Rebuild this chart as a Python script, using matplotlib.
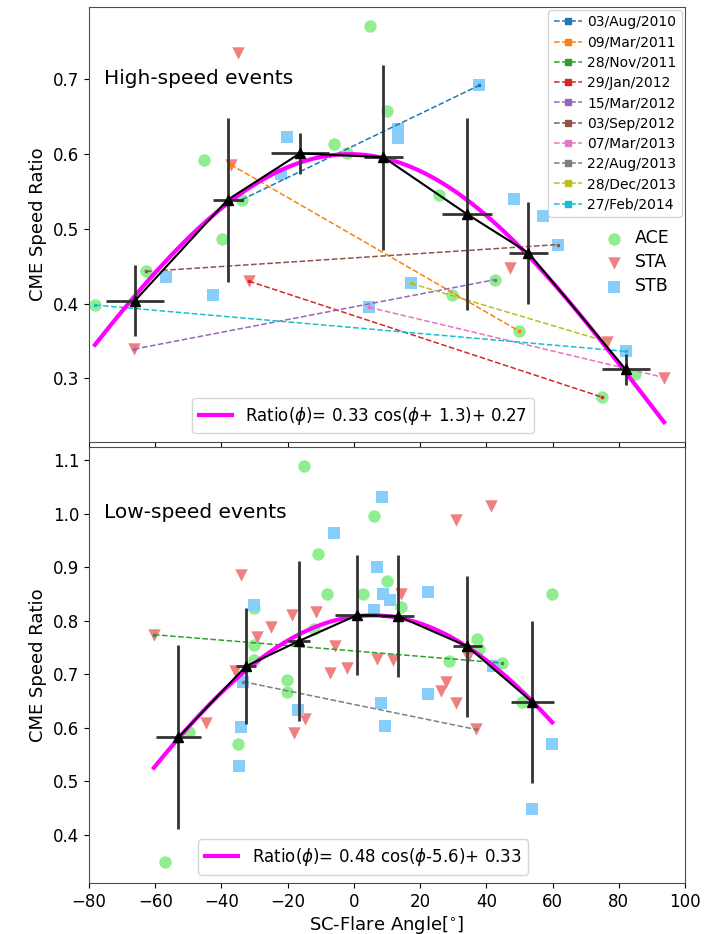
import numpy as np
import matplotlib
matplotlib.use("Agg")
import matplotlib.pyplot as plt

# ---- high-speed events (top panel) ----
hs_ace_x = [-78.2, -62.8, -45.3, -39.8, -33.9, -5.9, -2.2, 4.9, 10.1, 25.7, 29.7, 42.6, 50.0, 74.8, 84.9]
hs_ace_y = [0.398, 0.443, 0.592, 0.487, 0.539, 0.613, 0.601, 0.772, 0.658, 0.545, 0.412, 0.432, 0.363, 0.275, 0.306]
hs_sta_x = [-66.4, -34.9, -37.2, -31.7, 47.2, 76.4, 93.7]
hs_sta_y = [0.339, 0.736, 0.586, 0.430, 0.448, 0.349, 0.301]
hs_stb_x = [-56.7, -42.6, -22.1, -20.1, 13.2, 13.2, 4.6, 17.3, 37.8, 48.3, 57.0, 61.6, 82.1]
hs_stb_y = [0.436, 0.411, 0.573, 0.623, 0.634, 0.622, 0.395, 0.427, 0.692, 0.540, 0.517, 0.479, 0.336]

hs_bin_x = [-66.1, -38.1, -16.3, 8.9, 34.1, 52.7, 82.1]
hs_bin_y = [0.404, 0.539, 0.601, 0.596, 0.520, 0.468, 0.312]
hs_bin_xerr = [8.8, 4.5, 8.8, 5.9, 7.5, 5.8, 7.3]
hs_bin_yerr = [0.048, 0.110, 0.027, 0.124, 0.128, 0.068, 0.021]

# ---- low-speed events (bottom panel) ----
ls_ace_x = [-57.0, -15.0, 6.1, -10.8, -8.0, 2.8, 10.0, -30.2, -30.2, -30.2, -20.1, -20.1, -34.9, -49.7, -12.1,
            14.1, 37.1, 37.8, 28.8, 44.7, 50.7, 59.9]
ls_ace_y = [0.350, 1.089, 0.995, 0.925, 0.850, 0.850, 0.875, 0.823, 0.755, 0.726, 0.689, 0.666, 0.569, 0.593, 0.784,
            0.825, 0.766, 0.748, 0.725, 0.721, 0.649, 0.850]
ls_sta_x = [-60.4, -34.1, -29.4, -35.9, -44.8, -25.0, -18.6, -11.3, -5.7, -7.2, -2.0, -14.8, -18.1, 6.9, 11.9,
            41.5, 31.0, 14.1, 34.6, 27.8, 26.3, 31.0, 36.8]
ls_sta_y = [0.774, 0.886, 0.769, 0.706, 0.608, 0.788, 0.810, 0.817, 0.753, 0.702, 0.712, 0.617, 0.590, 0.729, 0.726,
            1.014, 0.988, 0.849, 0.733, 0.686, 0.668, 0.647, 0.597]
ls_stb_x = [8.4, -6.0, 6.9, 8.9, 10.9, 6.2, -30.1, -33.4, -34.1, -34.6, -16.8, 8.1, 9.3, 22.5, 22.5, 42.1, 59.9, 53.9]
ls_stb_y = [1.031, 0.964, 0.900, 0.850, 0.838, 0.820, 0.829, 0.686, 0.601, 0.528, 0.633, 0.646, 0.603, 0.853, 0.664,
            0.715, 0.569, 0.449]

ls_bin_x = [-53.0, -32.6, -16.6, 0.85, 13.2, 34.3, 53.9]
ls_bin_y = [0.582, 0.715, 0.762, 0.810, 0.809, 0.752, 0.648]
ls_bin_xerr = [6.9, 3.0, 3.3, 6.5, 5.0, 4.5, 6.4]
ls_bin_yerr = [0.172, 0.108, 0.149, 0.112, 0.114, 0.132, 0.151]

# ---- individual events seen by several spacecraft ----
event_names = ["03/Aug/2010", "09/Mar/2011", "28/Nov/2011", "29/Jan/2012", "15/Mar/2012",
               "03/Sep/2012", "07/Mar/2013", "22/Aug/2013", "28/Dec/2013", "27/Feb/2014"]
event_panel = [0, 0, 1, 0, 0, 0, 0, 1, 0, 0]
event_x = [[-33.9, 37.8], [-37.2, 50.0], [-60.4, 44.7], [-31.7, 74.8], [-66.4, 42.6],
           [-62.8, 61.6], [4.6, 93.7], [-33.4, 36.8], [17.3, 76.4], [-78.2, 82.1]]
event_y = [[0.539, 0.692], [0.586, 0.363], [0.774, 0.721], [0.430, 0.275], [0.339, 0.432],
           [0.443, 0.479], [0.395, 0.301], [0.686, 0.597], [0.427, 0.349], [0.398, 0.336]]

# fit parameters: ratio = a*cos(phi + b) + c  (phi in degrees)
hs_fit = (0.33, 1.3, 0.27)
ls_fit = (0.48, -5.6, 0.33)

fig = plt.figure(figsize=(7.12, 9.34), dpi=100)
ax1 = fig.add_axes([0.125, 0.527, 0.837, 0.4655])
ax2 = fig.add_axes([0.125, 0.0546, 0.837, 0.4665], sharex=ax1)

sc_colors = {"ACE": "lightgreen", "STA": "lightcoral", "STB": "lightskyblue"}
sc_marker = {"ACE": "o", "STA": "v", "STB": "s"}


def draw_panel(ax, ace, sta, stb, bins, fit, fit_label):
    pts = {"ACE": ace, "STA": sta, "STB": stb}
    sc_handles = []
    for name in ["ACE", "STA", "STB"]:
        h = ax.scatter(pts[name][0], pts[name][1], s=80, color=sc_colors[name],
                       marker=sc_marker[name], label=name, zorder=2, linewidths=0)
        sc_handles.append(h)
    allx = np.concatenate([ace[0], sta[0], stb[0]])
    phi = np.linspace(allx.min(), allx.max(), 300)
    a, b, c = fit
    fit_line, = ax.plot(phi, a * np.cos(np.radians(phi + b)) + c, color="magenta", lw=3,
                        zorder=4, label=fit_label)
    ax.errorbar(bins[0], bins[1], xerr=bins[2], yerr=bins[3], fmt="^-", color="black",
                ecolor="0.2", elinewidth=2, lw=1.5, ms=7, capsize=0, zorder=5)
    return sc_handles, fit_line


hs_sc, hs_line = draw_panel(ax1, (hs_ace_x, hs_ace_y), (hs_sta_x, hs_sta_y), (hs_stb_x, hs_stb_y),
                            (hs_bin_x, hs_bin_y, hs_bin_xerr, hs_bin_yerr), hs_fit,
                            r"Ratio($\phi$)= 0.33 cos($\phi$+ 1.3)+ 0.27")
ls_sc, ls_line = draw_panel(ax2, (ls_ace_x, ls_ace_y), (ls_sta_x, ls_sta_y), (ls_stb_x, ls_stb_y),
                            (ls_bin_x, ls_bin_y, ls_bin_xerr, ls_bin_yerr), ls_fit,
                            r"Ratio($\phi$)= 0.48 cos($\phi$-5.6)+ 0.33")

event_handles = []
for i, name in enumerate(event_names):
    ax = ax1 if event_panel[i] == 0 else ax2
    h, = ax.plot(event_x[i], event_y[i], "--s", color="C%d" % i, lw=1.1, ms=2, label=name, zorder=3)
    event_handles.append(h)

# legends
leg_ev = ax1.legend(handles=event_handles, loc="upper right", fontsize=10, borderaxespad=0.2,
                    handlelength=2.0, handletextpad=0.4, labelspacing=0.45)
for h in leg_ev.legend_handles:
    h.set_markersize(5)
ax1.add_artist(leg_ev)
leg_sc = ax1.legend(handles=hs_sc, loc="upper right", bbox_to_anchor=(1.0, 0.525), frameon=False,
                    fontsize=12.5, handletextpad=0.2, labelspacing=0.35)
ax1.add_artist(leg_sc)
ax1.legend(handles=[hs_line], loc="lower center", bbox_to_anchor=(0.46, 0.0), fontsize=12)
ax2.legend(handles=[ls_line], loc="lower center", bbox_to_anchor=(0.46, 0.0), fontsize=12)

ax1.text(0.025, 0.835, "High-speed events", transform=ax1.transAxes, fontsize=14.5, va="center")
ax2.text(0.025, 0.851, "Low-speed events", transform=ax2.transAxes, fontsize=14.5, va="center")

ax1.set_xlim(-80, 100)
ax1.set_ylim(0.215, 0.797)
ax2.set_ylim(0.310, 1.124)
ax1.set_yticks([0.3, 0.4, 0.5, 0.6, 0.7])
ax2.set_yticks([0.4, 0.5, 0.6, 0.7, 0.8, 0.9, 1.0, 1.1])
ax1.tick_params(labelbottom=False, labelsize=12)
ax2.tick_params(labelsize=12)
ax1.set_ylabel("CME Speed Ratio", fontsize=13)
ax2.set_ylabel("CME Speed Ratio", fontsize=13)
ax2.set_xlabel(r"SC-Flare Angle[$^{\circ}$]", fontsize=13, labelpad=2)
for ax in (ax1, ax2):
    for sp in ax.spines.values():
        sp.set_color("0.3")

fig.savefig("out.png", dpi=100)
